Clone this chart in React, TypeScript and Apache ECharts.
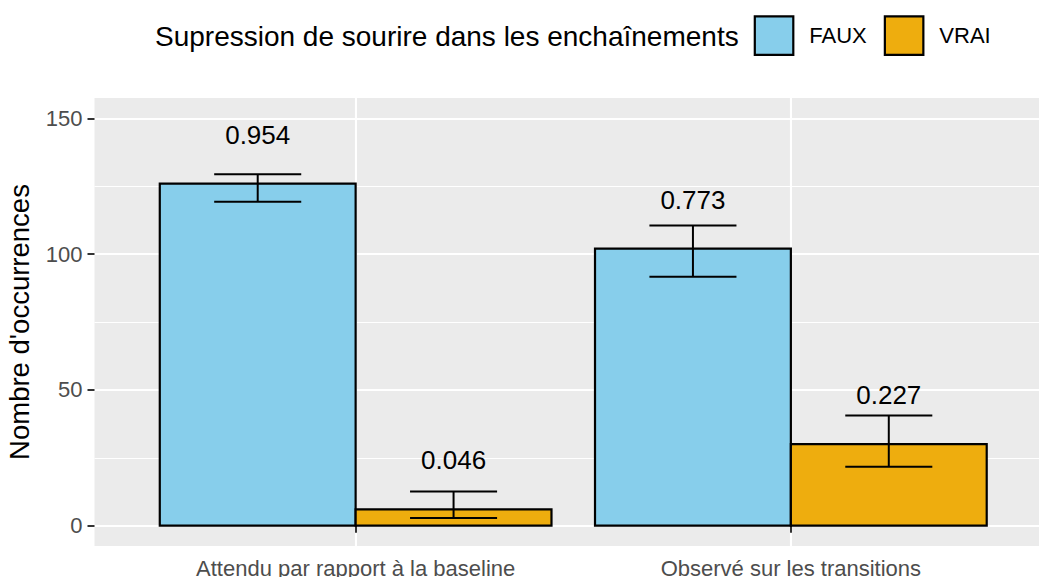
import React, { useEffect, useRef } from 'react';
import * as echarts from 'echarts';

// ---- data ----
const categories = ['Attendu par rapport à la baseline', 'Observé sur les transitions'];
const groups = ['FAUX', 'VRAI'];
const fauxCounts = [126, 102];
const vraiCounts = [6, 30];
const fauxLower = [119.3, 91.7];
const fauxUpper = [129.4, 110.5];
const vraiLower = [2.8, 21.7];
const vraiUpper = [12.6, 40.6];
const fauxLabels = ['0.954', '0.773'];
const vraiLabels = ['0.046', '0.227'];
const yTicks = [0, 50, 100, 150];
const yMinorTicks = [25, 75, 125];
const legendTitle = 'Supression de sourire dans les enchaînements';
const yTitle = "Nombre d'occurrences";

// ---- style ----
const FONT = '"Liberation Sans", Arial, sans-serif';
const COLORS = ['#87CEEB', '#EEAD0E'];
const DODGE = 0.225;
const BAR_W = 0.45;
const ERR_W = 0.2;
const LABEL_NUDGE = 18;

function makeSeries(name: string, color: string, offset: number, counts: number[], lo: number[], hi: number[], labels: string[]) {
  return {
    type: 'custom',
    name,
    z: 3,
    itemStyle: { color, borderColor: '#000', borderWidth: 2.2 },
    encode: { x: 0, y: 1 },
    data: counts.map((c, i) => [i + 1, c, lo[i], hi[i]]),
    renderItem: (params: any, api: any) => {
      const xc = api.value(0) + offset;
      const v = api.value(1);
      const l = api.value(2);
      const h = api.value(3);
      const p0 = api.coord([xc - BAR_W / 2, v]);
      const p1 = api.coord([xc + BAR_W / 2, 0]);
      const e0 = api.coord([xc - ERR_W / 2, l]);
      const e1 = api.coord([xc + ERR_W / 2, h]);
      const c = api.coord([xc, 0]);
      const lab = api.coord([xc, v + LABEL_NUDGE]);
      const ls = { stroke: '#000', lineWidth: 2 };
      return {
        type: 'group',
        children: [
          { type: 'rect', shape: { x: p0[0], y: p0[1], width: p1[0] - p0[0], height: p1[1] - p0[1] }, style: { fill: color, stroke: '#000', lineWidth: 2.2 } },
          { type: 'line', shape: { x1: c[0], y1: e0[1], x2: c[0], y2: e1[1] }, style: ls },
          { type: 'line', shape: { x1: e0[0], y1: e0[1], x2: e1[0], y2: e0[1] }, style: ls },
          { type: 'line', shape: { x1: e0[0], y1: e1[1], x2: e1[0], y2: e1[1] }, style: ls },
          { type: 'text', x: lab[0], y: lab[1], style: { text: labels[params.dataIndex], fill: '#000', font: `26px ${FONT}`, align: 'center', verticalAlign: 'middle' } },
        ],
      };
    },
  };
}

export default function App() {
  const ref = useRef<HTMLDivElement>(null);
  useEffect(() => {
    if (!ref.current) return;
    const chart = echarts.init(ref.current, undefined, { renderer: 'svg' });
    chart.setOption({
      animation: false,
      backgroundColor: '#fff',
      textStyle: { fontFamily: FONT },
      title: {
        text: legendTitle,
        left: 155,
        top: 20,
        padding: 0,
        textStyle: { fontSize: 28, fontWeight: 'normal', color: '#000', fontFamily: FONT, lineHeight: 32 },
      },
      legend: {
        left: 753.7,
        top: 15.3,
        padding: 0,
        itemWidth: 38.5,
        itemHeight: 38.5,
        itemGap: 17,
        icon: 'rect',
        textStyle: { fontSize: 22, color: '#000', fontFamily: FONT, padding: [0, 0, 0, 11] },
        data: groups.map((g, i) => ({ name: g, itemStyle: { color: COLORS[i], borderColor: '#000', borderWidth: 2.2 } })),
      },
      grid: {
        left: 94.5,
        right: -13,
        top: 98,
        bottom: 31,
        show: true,
        backgroundColor: '#EBEBEB',
        borderWidth: 0,
        containLabel: false,
        outerBoundsMode: 'none',
      },
      xAxis: [
        {
          type: 'value',
          min: 0.4,
          max: 2.6,
          axisLine: { show: false },
          axisTick: { show: true, length: 7, lineStyle: { color: '#333', width: 2 }, customValues: [1, 2] },
          axisLabel: {
            customValues: [1, 2],
            formatter: (v: number) => categories[Math.round(v) - 1] ?? '',
            fontSize: 22,
            color: '#4D4D4D',
            margin: 11,
            fontFamily: FONT,
          },
          splitLine: { show: true, lineStyle: { color: '#fff', width: 2.1 } },
        },
      ],
      yAxis: [
        {
          type: 'value',
          min: -7.5,
          max: 157.5,
          name: yTitle,
          nameLocation: 'middle',
          nameRotate: 90,
          nameGap: 61,
          nameTextStyle: { fontSize: 27.5, color: '#000', fontFamily: FONT },
          axisLine: { show: false },
          axisTick: { show: true, length: 7, lineStyle: { color: '#333', width: 2 }, customValues: yTicks },
          axisLabel: { customValues: yTicks, fontSize: 22, color: '#4D4D4D', margin: 12, fontFamily: FONT },
          splitLine: { show: true, lineStyle: { color: '#fff', width: 2.1 } },
        },
        {
          type: 'value',
          min: -7.5,
          max: 157.5,
          position: 'left',
          axisLine: { show: false },
          axisTick: { show: false, customValues: yMinorTicks },
          axisLabel: { show: false, customValues: yMinorTicks },
          splitLine: { show: true, lineStyle: { color: '#fff', width: 1 } },
        },
      ],
      series: [
        makeSeries(groups[0], COLORS[0], -DODGE, fauxCounts, fauxLower, fauxUpper, fauxLabels),
        makeSeries(groups[1], COLORS[1], DODGE, vraiCounts, vraiLower, vraiUpper, vraiLabels),
      ],
    });
    return () => chart.dispose();
  }, []);
  return <div ref={ref} style={{ position: 'fixed', left: 0, top: 0, width: 1039, height: 577 }} />;
}
